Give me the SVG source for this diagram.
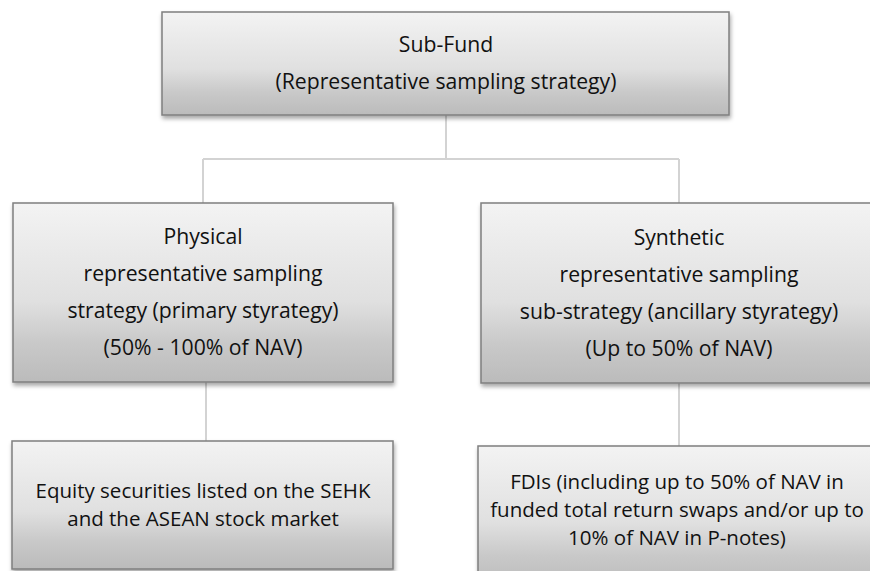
<svg xmlns="http://www.w3.org/2000/svg" width="870" height="571" viewBox="0 0 870 571">
<style>
.box{fill:url(#g);stroke:#7f7f7f;stroke-width:1.5;filter:url(#sh)}
.t{font-family:"Open Sans","Liberation Sans",sans-serif;font-size:21.2px;fill:#111;text-anchor:middle}
.s{font-size:20.5px}
.c{stroke:#d3d3d3;stroke-width:2;fill:none}
</style>
<defs>
<linearGradient id="g" x1="0" y1="0" x2="0" y2="1">
<stop offset="0" stop-color="#f3f3f3"/>
<stop offset="0.55" stop-color="#e0e0e0"/>
<stop offset="0.78" stop-color="#c9c9c9"/>
<stop offset="1" stop-color="#bbbbbb"/>
</linearGradient>
<filter id="sh" x="-10%" y="-10%" width="120%" height="130%">
<feDropShadow dx="1" dy="3" stdDeviation="2" flood-color="#000" flood-opacity="0.35"/>
</filter>
</defs>
<g id="connectors">
<path class="c" d="M446 115V159M203 159H679M203 159V203M679 159V203"/>
<path class="c" d="M206 382V441M679 383V446"/>
</g>
<g id="subfund">
<rect class="box" x="162" y="12" width="567" height="103"/>
<text class="t" x="446" y="52">Sub-Fund</text>
<text class="t" x="446" y="89">(Representative sampling strategy)</text>
</g>
<g id="physical">
<rect class="box" x="13" y="203" width="380" height="179"/>
<text class="t" x="203" y="244">Physical</text>
<text class="t" x="203" y="281">representative sampling</text>
<text class="t" x="203" y="318">strategy (primary styrategy)</text>
<text class="t" x="203" y="355">(50% - 100% of NAV)</text>
</g>
<g id="synthetic">
<rect class="box" x="481" y="203" width="400" height="180"/>
<text class="t" x="679" y="245">Synthetic</text>
<text class="t" x="679" y="282">representative sampling</text>
<text class="t" x="679" y="319">sub-strategy (ancillary styrategy)</text>
<text class="t" x="679" y="356">(Up to 50% of NAV)</text>
</g>
<g id="equity">
<rect class="box" x="12" y="441" width="381" height="128"/>
<text class="t s" x="203" y="498">Equity securities listed on the SEHK</text>
<text class="t s" x="203" y="526">and the ASEAN stock market</text>
</g>
<g id="fdis">
<rect class="box" x="478" y="446" width="400" height="140"/>
<text class="t s" x="677" y="489">FDIs (including up to 50% of NAV in</text>
<text class="t s" x="677" y="517">funded total return swaps and/or up to</text>
<text class="t s" x="677" y="545">10% of NAV in P-notes)</text>
</g>
</svg>
